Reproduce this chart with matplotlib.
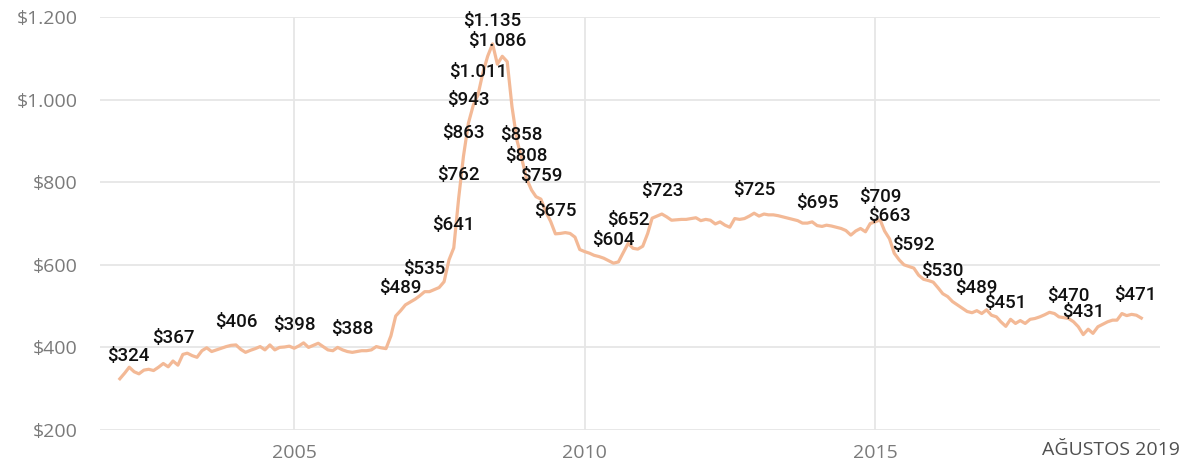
import matplotlib
matplotlib.use("Agg")
import matplotlib.pyplot as plt
import pandas as pd

# monthly values, Jan 2002 .. Aug 2019
values = [
    324, 338, 352, 341, 336, 345, 347, 344, 352, 361, 353, 367,   # 2002
    357, 383, 386, 380, 376, 392, 399, 390, 394, 398, 402, 405,   # 2003
    406, 395, 388, 393, 397, 402, 394, 406, 394, 400, 401, 403,   # 2004
    398, 404, 411, 400, 405, 410, 402, 394, 392, 400, 394, 390,   # 2005
    388, 390, 392, 392, 394, 402, 399, 397, 428, 476, 489, 503,   # 2006
    510, 517, 525, 535, 535, 540, 545, 559, 612, 641, 762, 863,   # 2007
    943, 987, 1011, 1065, 1105, 1135, 1086, 1105, 1092, 983, 902, 858,  # 2008
    808, 781, 765, 759, 729, 705, 675, 676, 678, 676, 667, 637,   # 2009
    632, 628, 623, 620, 616, 610, 604, 607, 630, 652, 640, 638,   # 2010
    645, 676, 713, 718, 723, 716, 708, 709, 710, 710, 712, 714,   # 2011
    707, 710, 708, 699, 704, 696, 691, 712, 710, 712, 718, 725,   # 2012
    718, 723, 721, 721, 719, 716, 713, 710, 707, 701, 701, 704,   # 2013
    695, 693, 696, 694, 691, 688, 683, 672, 682, 688, 680, 700,   # 2014
    704, 709, 682, 663, 628, 612, 600, 596, 592, 575, 565, 562,   # 2015
    558, 544, 530, 523, 511, 503, 495, 487, 484, 489, 482, 491,   # 2016
    478, 474, 462, 451, 468, 458, 465, 458, 468, 470, 474, 479,   # 2017
    485, 482, 474, 472, 470, 462, 450, 431, 444, 434, 450, 456,   # 2018
    462, 466, 466, 482, 477, 480, 478, 471,                       # 2019
]
dates = pd.date_range("2002-01-01", periods=len(values), freq="MS")

label_dates = [
    "2002-01", "2002-12", "2004-01", "2005-01", "2006-01", "2006-11", "2007-04",
    "2007-10", "2007-11", "2007-12", "2008-01", "2008-03", "2008-06", "2008-07",
    "2008-12", "2009-01", "2009-04", "2009-07", "2010-07", "2010-10", "2011-05",
    "2012-12", "2014-01", "2015-02", "2015-04", "2015-09", "2016-03", "2016-10",
    "2017-04", "2018-05", "2018-08", "2019-08",
]
y_ticks = [200, 400, 600, 800, 1000, 1200]
x_ticks = ["2005", "2010", "2015"]
corner_note = "AĞUSTOS 2019"

series = pd.Series(values, index=dates)


def money(v):
    return "$" + f"{v:,.0f}".replace(",", ".")


fig = plt.figure(figsize=(11.83, 4.65), dpi=100)
ax = fig.add_axes([0.0845, 0.0753, 0.896, 0.888])

ax.plot(series.index, series.values, color="#F3B996", lw=2.3, solid_joinstyle="round", zorder=3)

for d in label_dates:
    t = pd.Timestamp(d + "-01")
    v = series[t]
    dx = 6 if t == dates[0] else (-4 if t == dates[-1] else 0)
    ax.annotate(money(v), (t, v), xytext=(dx, 16.5), textcoords="offset points",
                ha="center", va="center", fontsize=13.5, family="Roboto",
                fontweight="medium", color="#111111", zorder=4)

ax.set_ylim(200, 1200)
ax.set_xlim(pd.Timestamp("2001-08-29"), pd.Timestamp("2019-11-26"))
ax.set_yticks(y_ticks)
ax.set_yticklabels([money(v) for v in y_ticks])
ax.set_xticks([pd.Timestamp(y + "-01-01") for y in x_ticks])
ax.set_xticklabels(x_ticks)

ax.grid(True, color="#E6E6E6", lw=1.3)
ax.set_axisbelow(True)
for s in ax.spines.values():
    s.set_visible(False)
ax.tick_params(length=0, labelsize=14, labelcolor="#7A7A7A")
ax.tick_params(axis="y", pad=16)
ax.tick_params(axis="x", pad=10)
for lbl in ax.get_xticklabels() + ax.get_yticklabels():
    lbl.set_family("Open Sans")

fig.text(0.997, 0.032, corner_note, ha="right", va="center", fontsize=14,
         family="Open Sans", color="#505050")

fig.savefig("out.png", dpi=100)
